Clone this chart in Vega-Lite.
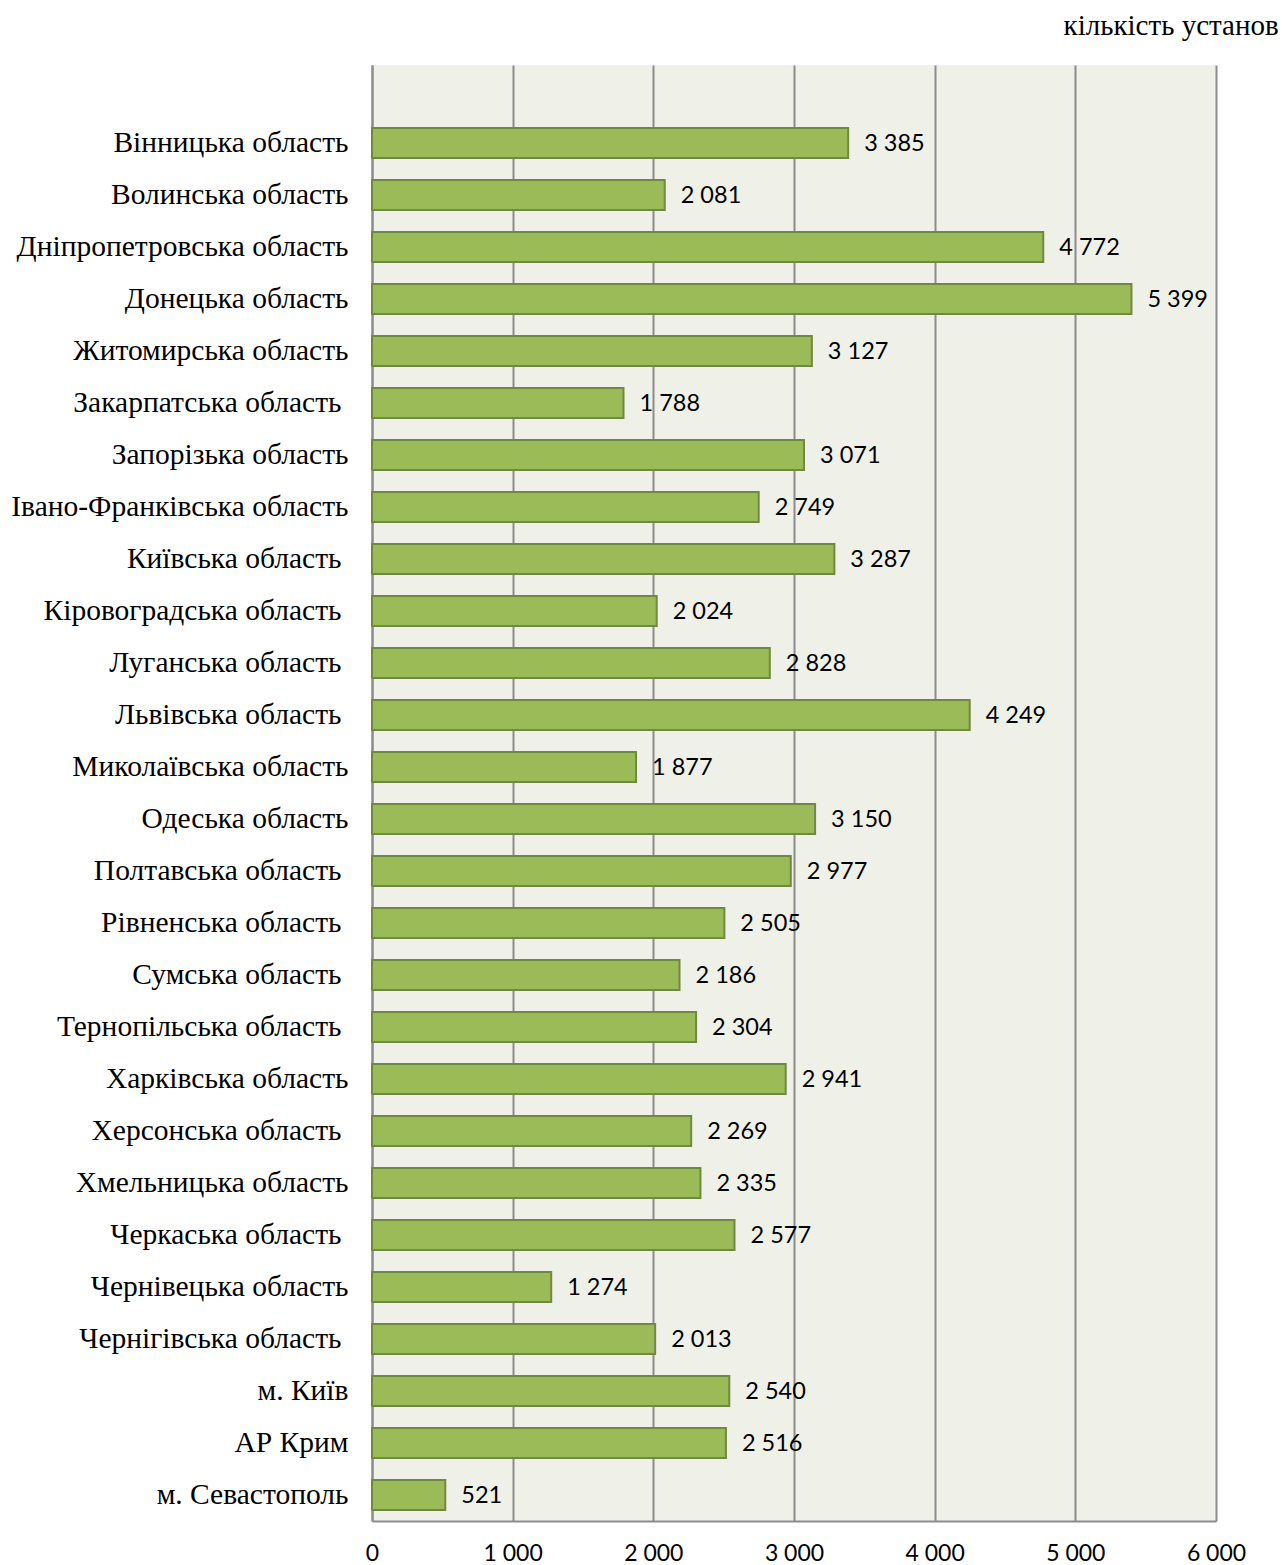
{
  "$schema": "https://vega.github.io/schema/vega-lite/v6.json",
  "autosize": "none",
  "width": 844,
  "height": 1456,
  "padding": {"left": 372, "top": 65, "right": 66, "bottom": 44},
  "background": "white",
  "title": {
    "text": "кількість установ",
    "anchor": "end",
    "orient": "top",
    "dx": 33,
    "offset": 24,
    "font": "Liberation Serif",
    "fontSize": 29,
    "fontWeight": "normal",
    "color": "#000000"
  },
  "data": {
    "values": [
      {"region": "Вінницька область", "value": 3385},
      {"region": "Волинська область", "value": 2081},
      {"region": "Дніпропетровська область", "value": 4772},
      {"region": "Донецька область", "value": 5399},
      {"region": "Житомирська область", "value": 3127},
      {"region": "Закарпатська область", "value": 1788},
      {"region": "Запорізька область", "value": 3071},
      {"region": "Івано-Франківська область", "value": 2749},
      {"region": "Київська область", "value": 3287},
      {"region": "Кіровоградська область", "value": 2024},
      {"region": "Луганська область", "value": 2828},
      {"region": "Львівська область", "value": 4249},
      {"region": "Миколаївська область", "value": 1877},
      {"region": "Одеська область", "value": 3150},
      {"region": "Полтавська область", "value": 2977},
      {"region": "Рівненська область", "value": 2505},
      {"region": "Сумська область", "value": 2186},
      {"region": "Тернопільська область", "value": 2304},
      {"region": "Харківська область", "value": 2941},
      {"region": "Херсонська область", "value": 2269},
      {"region": "Хмельницька область", "value": 2335},
      {"region": "Черкаська область", "value": 2577},
      {"region": "Чернівецька область", "value": 1274},
      {"region": "Чернігівська область", "value": 2013},
      {"region": "м. Київ", "value": 2540},
      {"region": "АР Крим", "value": 2516},
      {"region": "м. Севастополь", "value": 521}
    ]
  },
  "transform": [
    {"calculate": "replace(format(datum.value, ','), ',', ' ')", "as": "lbl"}
  ],
  "encoding": {
    "y": {
      "field": "region",
      "type": "nominal",
      "sort": null,
      "title": null,
      "scale": {"paddingInner": 0.423, "paddingOuter": 0.7115, "align": 0.85},
      "axis": {
        "ticks": false,
        "domain": true,
        "domainColor": "#8c8c8c",
        "domainWidth": 2,
        "labelFont": "Liberation Serif",
        "labelFontSize": 29.5,
        "labelColor": "#000000",
        "labelPadding": {
          "condition": {
            "test": "indexof(['Закарпатська область','Київська область','Кіровоградська область','Луганська область','Львівська область','Полтавська область','Рівненська область','Сумська область','Тернопільська область','Херсонська область','Черкаська область','Чернігівська область'], datum.value) >= 0",
            "value": 31
          },
          "value": 24
        },
        "labelLimit": 400
      }
    },
    "x": {
      "field": "value",
      "type": "quantitative",
      "title": null,
      "scale": {"domain": [0, 6000], "nice": false},
      "axis": {
        "values": [0, 1000, 2000, 3000, 4000, 5000, 6000],
        "labelExpr": "replace(format(datum.value, ','), ',', ' ')",
        "labelFlush": false,
        "labelOverlap": false,
        "grid": true,
        "gridColor": "#8c8c8c",
        "gridWidth": 2,
        "ticks": false,
        "domain": true,
        "domainColor": "#8c8c8c",
        "domainWidth": 2,
        "labelFont": "Lato",
        "labelFontSize": 23,
        "labelColor": "#000000",
        "labelPadding": 21
      }
    }
  },
  "layer": [
    {
      "mark": {"type": "bar", "fill": "#9BBB59", "stroke": "#71893F", "strokeWidth": 2}
    },
    {
      "mark": {"type": "text", "align": "left", "baseline": "middle", "dx": 16, "dy": 1.5, "font": "Lato", "fontSize": 23.5, "color": "#000000"},
      "encoding": {"text": {"field": "lbl"}}
    }
  ],
  "config": {
    "view": {"fill": "#EFF1E9", "stroke": null}
  }
}
